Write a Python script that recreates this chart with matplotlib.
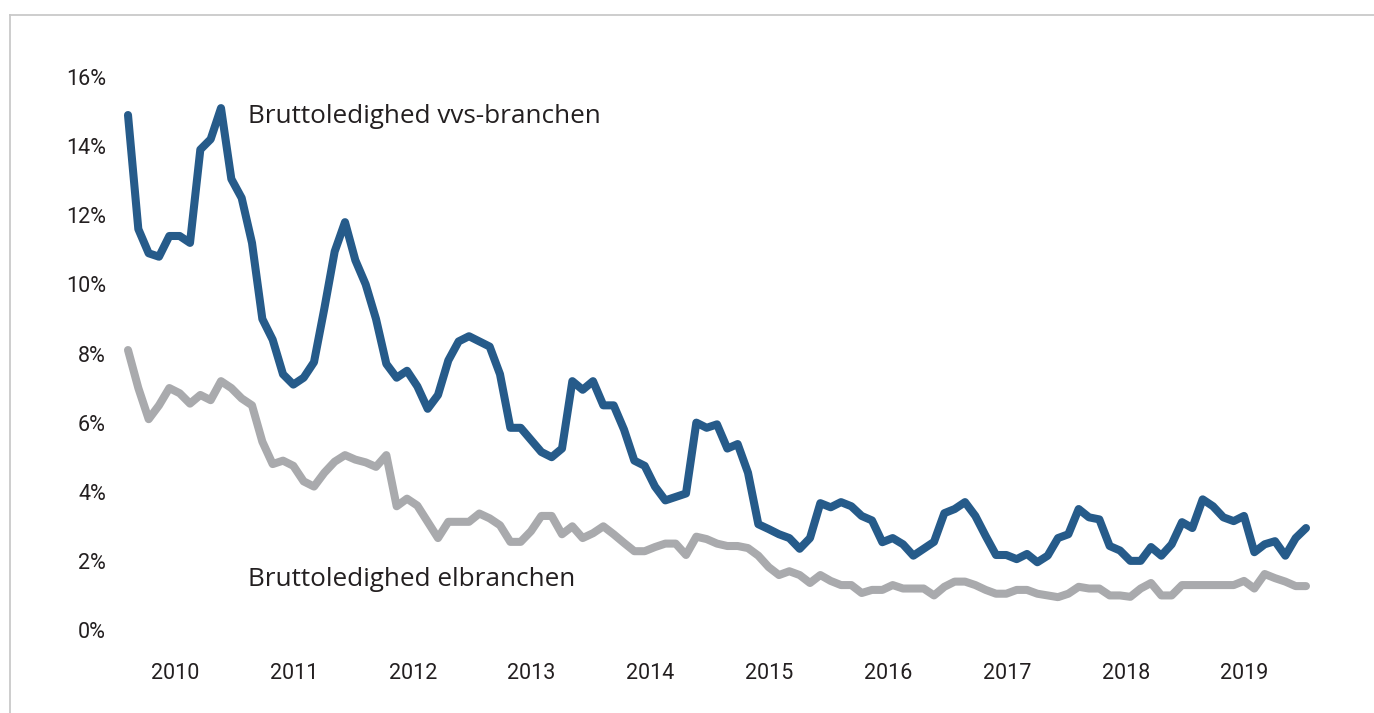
import matplotlib
matplotlib.use("Agg")
import matplotlib.pyplot as plt
from matplotlib.lines import Line2D
import numpy as np

# ---- data (monthly) ----
vvs = [14.9, 11.6, 10.9, 10.8, 11.4, 11.4, 11.2, 13.9, 14.2, 15.1,
       13.05, 12.5, 11.2, 9.0, 8.4, 7.4, 7.1, 7.3, 7.75, 9.3,
       10.95, 11.8, 10.7, 10.0, 9.0, 7.7, 7.3, 7.5, 7.05, 6.4,
       6.8, 7.8, 8.35, 8.5, 8.35, 8.2, 7.4, 5.85, 5.85, 5.5,
       5.15, 5.0, 5.25, 7.2, 6.95, 7.2, 6.5, 6.5, 5.8, 4.9,
       4.75, 4.15, 3.75, 3.85, 3.95, 6.0, 5.85, 5.95, 5.25, 5.38,
       4.55, 3.06, 2.92, 2.77, 2.66, 2.35, 2.66, 3.67, 3.55, 3.7,
       3.58, 3.3, 3.17, 2.54, 2.66, 2.48, 2.15, 2.35, 2.55, 3.38,
       3.5, 3.7, 3.3, 2.72, 2.17, 2.17, 2.05, 2.2, 1.96, 2.15,
       2.66, 2.77, 3.5, 3.26, 3.2, 2.43, 2.3, 2.0, 2.0, 2.4,
       2.15, 2.48, 3.12, 2.95, 3.78, 3.58, 3.26, 3.15, 3.3, 2.25,
       2.48, 2.57, 2.15, 2.66, 2.95]

el = [8.1, 7.0, 6.1, 6.5, 7.0, 6.85, 6.55, 6.8, 6.65, 7.2,
      7.0, 6.7, 6.5, 5.45, 4.8, 4.9, 4.75, 4.3, 4.15, 4.55,
      4.87, 5.06, 4.93, 4.85, 4.72, 5.06, 3.58, 3.8, 3.6, 3.13,
      2.66, 3.13, 3.13, 3.13, 3.37, 3.23, 3.03, 2.55, 2.55, 2.86,
      3.3, 3.3, 2.77, 3.0, 2.66, 2.8, 3.0, 2.77, 2.52, 2.28,
      2.28, 2.4, 2.5, 2.5, 2.17, 2.7, 2.63, 2.5, 2.43, 2.43,
      2.37, 2.15, 1.82, 1.59, 1.7, 1.59, 1.36, 1.59, 1.42, 1.3,
      1.3, 1.07, 1.16, 1.16, 1.3, 1.2, 1.2, 1.2, 1.0, 1.25,
      1.4, 1.4, 1.3, 1.16, 1.05, 1.05, 1.16, 1.16, 1.05, 1.0,
      0.95, 1.05, 1.25, 1.2, 1.2, 1.0, 1.0, 0.96, 1.2, 1.36,
      1.0, 1.0, 1.3, 1.3, 1.3, 1.3, 1.3, 1.3, 1.42, 1.2,
      1.62, 1.5, 1.4, 1.27, 1.27]

years = ["2010", "2011", "2012", "2013", "2014", "2015", "2016", "2017", "2018", "2019"]
y_ticks = [0, 2, 4, 6, 8, 10, 12, 14, 16]
y_labels = ["0%", "2%", "4%", "6%", "8%", "10%", "12%", "14%", "16%"]
label_vvs = "Bruttoledighed vvs-branchen"
label_el = "Bruttoledighed elbranchen"

# ---- layout ----
W, H, DPI = 1374, 713, 100
fig = plt.figure(figsize=(W / DPI, H / DPI), dpi=DPI)
fig.patch.set_facecolor("white")

x0, x1 = 128, 1306
y0, y1 = 630, 77
ax = fig.add_axes([x0 / W, (H - y0) / H, (x1 - x0) / W, (y0 - y1) / H])
ax.set_facecolor("none")

n = len(vvs)
x = np.arange(n)

blue = "#265B8A"
grey = "#A9AAAD"
lw = 5.8

ax.plot(x, el, color=grey, lw=lw, solid_capstyle="round", solid_joinstyle="round",
        zorder=2, clip_on=False)
ax.plot(x, vvs, color=blue, lw=lw, solid_capstyle="round", solid_joinstyle="round",
        zorder=3, clip_on=False)

ax.set_xlim(0, n - 1)
ax.set_ylim(0, 16)
for s in ax.spines.values():
    s.set_visible(False)

tick_font = "Roboto"
txt_col = "#231F20"
ax.set_yticks(y_ticks)
ax.set_yticklabels(y_labels, fontsize=15.5, color=txt_col, family=tick_font)
ax.tick_params(axis="y", length=0, pad=16)

year_pos = [4.55 + 11.5 * k for k in range(len(years))]
ax.set_xticks(year_pos)
ax.set_xticklabels(years, fontsize=15.5, color=txt_col, family=tick_font)
ax.tick_params(axis="x", length=0, pad=24)

# series labels
ax.text(11.6, 14.85, label_vvs, fontsize=18.8, color=txt_col, family="Open Sans",
        ha="left", va="center")
ax.text(11.6, 1.45, label_el, fontsize=18.8, color=txt_col, family="Open Sans",
        ha="left", va="center")

# light frame
frame_col = "#C9C9C9"
fig.add_artist(Line2D([9.5 / W, 9.5 / W], [0, (H - 14.5) / H], color=frame_col, lw=1.3,
                      transform=fig.transFigure))
fig.add_artist(Line2D([9.5 / W, 1], [(H - 14.5) / H, (H - 14.5) / H], color=frame_col, lw=1.3,
                      transform=fig.transFigure))

fig.savefig("out.png", dpi=DPI)
